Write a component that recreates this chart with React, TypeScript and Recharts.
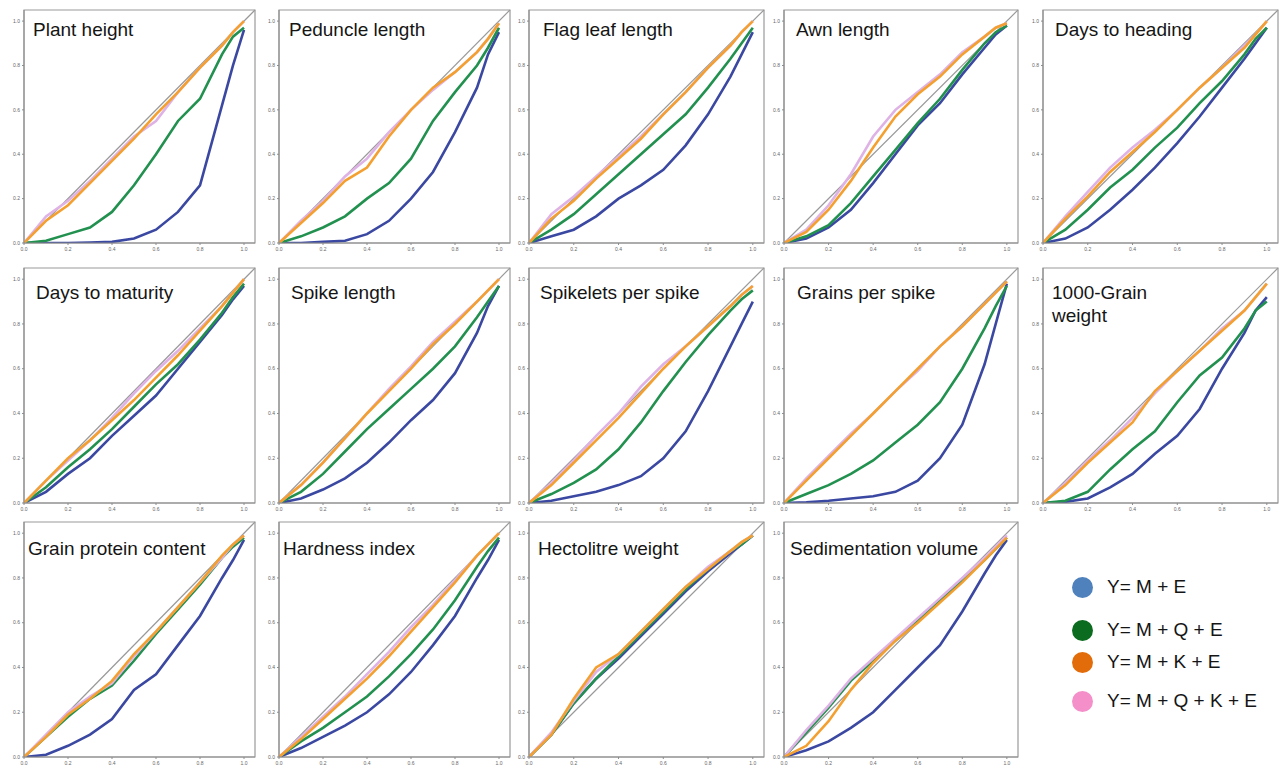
import { LineChart, Line, XAxis, YAxis, ReferenceLine, ReferenceArea } from "recharts";

// expected p grid shared by every P-P panel
const pGrid = [0, 0.1, 0.2, 0.3, 0.4, 0.5, 0.6, 0.7, 0.8, 0.9, 0.95, 1.0];

// each trait: [M+E, M+Q+E, M+K+E, M+Q+K+E] observed p along pGrid
const plantHeight = [
  [0, 0.0, 0.0, 0.002, 0.005, 0.02, 0.06, 0.14, 0.26, 0.62, 0.8, 0.96],
  [0, 0.01, 0.04, 0.07, 0.14, 0.26, 0.4, 0.55, 0.65, 0.85, 0.93, 0.97],
  [0, 0.1, 0.17, 0.27, 0.37, 0.47, 0.58, 0.68, 0.79, 0.89, 0.95, 1.0],
  [0, 0.12, 0.19, 0.28, 0.38, 0.48, 0.55, 0.68, 0.79, 0.89, 0.95, 1.0],
];
const peduncleLength = [
  [0, 0.0, 0.005, 0.01, 0.04, 0.1, 0.2, 0.32, 0.5, 0.7, 0.85, 0.95],
  [0, 0.03, 0.07, 0.12, 0.2, 0.27, 0.38, 0.55, 0.68, 0.8, 0.88, 0.97],
  [0, 0.09, 0.18, 0.28, 0.34, 0.48, 0.6, 0.7, 0.77, 0.86, 0.92, 0.99],
  [0, 0.1, 0.19, 0.3, 0.38, 0.5, 0.6, 0.69, 0.77, 0.86, 0.92, 0.99],
];
const flagLeafLength = [
  [0, 0.03, 0.06, 0.12, 0.2, 0.26, 0.33, 0.44, 0.58, 0.75, 0.85, 0.95],
  [0, 0.06, 0.13, 0.22, 0.31, 0.4, 0.49, 0.58, 0.7, 0.83, 0.9, 0.97],
  [0, 0.11, 0.19, 0.29, 0.38, 0.47, 0.58, 0.68, 0.79, 0.89, 0.95, 1.0],
  [0, 0.13, 0.21, 0.3, 0.39, 0.48, 0.58, 0.68, 0.79, 0.89, 0.95, 1.0],
];
const awnLength = [
  [0, 0.02, 0.07, 0.15, 0.27, 0.4, 0.53, 0.63, 0.76, 0.88, 0.94, 0.98],
  [0, 0.03, 0.08, 0.18, 0.3, 0.42, 0.54, 0.65, 0.78, 0.9, 0.95, 0.98],
  [0, 0.05, 0.15, 0.28, 0.43, 0.57, 0.67, 0.75, 0.85, 0.93, 0.97, 0.99],
  [0, 0.06, 0.17, 0.31, 0.48, 0.6, 0.68, 0.76, 0.86, 0.93, 0.97, 0.99],
];
const daysToHeading = [
  [0, 0.02, 0.07, 0.15, 0.24, 0.34, 0.45, 0.57, 0.7, 0.83, 0.9, 0.97],
  [0, 0.06, 0.15, 0.25, 0.33, 0.43, 0.52, 0.63, 0.73, 0.85, 0.92, 0.97],
  [0, 0.11, 0.21, 0.32, 0.41, 0.5, 0.6, 0.7, 0.79, 0.88, 0.94, 1.0],
  [0, 0.12, 0.23, 0.34, 0.43, 0.51, 0.6, 0.7, 0.79, 0.89, 0.94, 1.0],
];
const daysToMaturity = [
  [0, 0.05, 0.13, 0.2, 0.3, 0.39, 0.48, 0.6, 0.72, 0.84, 0.91, 0.97],
  [0, 0.07, 0.16, 0.24, 0.33, 0.43, 0.53, 0.62, 0.73, 0.85, 0.92, 0.98],
  [0, 0.1, 0.2, 0.28, 0.37, 0.46, 0.56, 0.66, 0.77, 0.88, 0.94, 1.0],
  [0, 0.1, 0.19, 0.28, 0.38, 0.49, 0.59, 0.68, 0.78, 0.88, 0.94, 1.0],
];
const spikeLength = [
  [0, 0.02, 0.06, 0.11, 0.18, 0.27, 0.37, 0.46, 0.58, 0.76, 0.88, 0.97],
  [0, 0.05, 0.13, 0.23, 0.33, 0.42, 0.51, 0.6, 0.7, 0.83, 0.9, 0.97],
  [0, 0.08, 0.18, 0.29, 0.4, 0.5, 0.6, 0.71, 0.8, 0.9, 0.95, 1.0],
  [0, 0.08, 0.18, 0.29, 0.4, 0.51, 0.61, 0.72, 0.81, 0.9, 0.95, 1.0],
];
const spikeletsPerSpike = [
  [0, 0.01, 0.03, 0.05, 0.08, 0.12, 0.2, 0.32, 0.5, 0.7, 0.8, 0.9],
  [0, 0.04, 0.09, 0.15, 0.24, 0.36, 0.5, 0.63, 0.75, 0.86, 0.91, 0.95],
  [0, 0.08, 0.18, 0.28, 0.38, 0.49, 0.6, 0.7, 0.79, 0.88, 0.93, 0.97],
  [0, 0.09, 0.19, 0.3, 0.4, 0.52, 0.62, 0.7, 0.79, 0.88, 0.93, 0.97],
];
const grainsPerSpike = [
  [0, 0.003, 0.01, 0.02, 0.03, 0.05, 0.1, 0.2, 0.35, 0.62, 0.8, 0.98],
  [0, 0.04, 0.08, 0.13, 0.19, 0.27, 0.35, 0.45, 0.6, 0.78, 0.88, 0.97],
  [0, 0.1, 0.2, 0.3, 0.4, 0.5, 0.6, 0.7, 0.79, 0.89, 0.94, 0.99],
  [0, 0.11, 0.21, 0.31, 0.4, 0.5, 0.59, 0.7, 0.79, 0.89, 0.94, 0.99],
];
const thousandGrainWeight = [
  [0, 0.005, 0.02, 0.07, 0.13, 0.22, 0.3, 0.42, 0.6, 0.76, 0.86, 0.92],
  [0, 0.01, 0.05, 0.15, 0.24, 0.32, 0.45, 0.57, 0.65, 0.78, 0.86, 0.9],
  [0, 0.08, 0.18, 0.27, 0.36, 0.5, 0.59, 0.68, 0.77, 0.86, 0.92, 0.98],
  [0, 0.09, 0.19, 0.28, 0.38, 0.49, 0.59, 0.68, 0.78, 0.86, 0.92, 0.98],
];
const grainProtein = [
  [0, 0.01, 0.05, 0.1, 0.17, 0.3, 0.37, 0.5, 0.63, 0.8, 0.88, 0.97],
  [0, 0.09, 0.18, 0.26, 0.32, 0.43, 0.55, 0.66, 0.77, 0.89, 0.94, 0.98],
  [0, 0.09, 0.19, 0.26, 0.34, 0.46, 0.56, 0.67, 0.78, 0.9, 0.95, 0.99],
  [0, 0.1, 0.2, 0.27, 0.33, 0.45, 0.56, 0.67, 0.78, 0.89, 0.95, 0.99],
];
const hardnessIndex = [
  [0, 0.04, 0.09, 0.14, 0.2, 0.28, 0.38, 0.5, 0.63, 0.8, 0.88, 0.97],
  [0, 0.07, 0.13, 0.2, 0.27, 0.36, 0.46, 0.57, 0.7, 0.85, 0.92, 0.98],
  [0, 0.08, 0.17, 0.26, 0.35, 0.45, 0.56, 0.67, 0.78, 0.9, 0.95, 1.0],
  [0, 0.09, 0.18, 0.27, 0.37, 0.47, 0.58, 0.68, 0.79, 0.9, 0.95, 1.0],
];
const hectolitreWeight = [
  [0, 0.1, 0.24, 0.35, 0.44, 0.54, 0.64, 0.74, 0.83, 0.91, 0.95, 0.99],
  [0, 0.1, 0.24, 0.35, 0.45, 0.55, 0.65, 0.75, 0.84, 0.92, 0.95, 0.99],
  [0, 0.1, 0.26, 0.4, 0.46, 0.56, 0.66, 0.76, 0.84, 0.92, 0.96, 0.99],
  [0, 0.11, 0.25, 0.38, 0.46, 0.56, 0.66, 0.76, 0.85, 0.92, 0.96, 0.99],
];
const sedimentationVolume = [
  [0, 0.03, 0.07, 0.13, 0.2, 0.3, 0.4, 0.5, 0.65, 0.82, 0.9, 0.97],
  [0, 0.11, 0.22, 0.34, 0.43, 0.52, 0.61, 0.7, 0.79, 0.88, 0.93, 0.98],
  [0, 0.05, 0.16, 0.3, 0.42, 0.52, 0.6, 0.69, 0.78, 0.88, 0.93, 0.98],
  [0, 0.12, 0.23, 0.35, 0.44, 0.53, 0.62, 0.71, 0.8, 0.89, 0.94, 0.99],
];

const traitNames = [
  "Plant height", "Peduncle length", "Flag leaf length", "Awn length", "Days to heading",
  "Days to maturity", "Spike length", "Spikelets per spike", "Grains per spike", "1000-Grain\nweight",
  "Grain protein content", "Hardness index", "Hectolitre weight", "Sedimentation volume",
];
const traitData = [
  plantHeight, peduncleLength, flagLeafLength, awnLength, daysToHeading,
  daysToMaturity, spikeLength, spikeletsPerSpike, grainsPerSpike, thousandGrainWeight,
  grainProtein, hardnessIndex, hectolitreWeight, sedimentationVolume,
];

const modelLabels = ["Y= M + E", "Y= M + Q + E", "Y= M + K + E", "Y= M + Q + K + E"];
const modelKeys = ["me", "mqe", "mke", "mqke"];
const lineColors = ["#3a48a2", "#22914f", "#f4a031", "#dfb2e6"];
const legendColors = ["#4f81bd", "#0b6b1f", "#e36c0a", "#f58fc9"];
const axisTicks = [0, 0.2, 0.4, 0.6, 0.8, 1.0];

// panel boxes (plot frame) in page pixels
const colLeft = [24, 279, 529, 784, 1043];
const colWidth = [230, 230, 234, 233, 234];
const rowTop = [10, 268, 522];
const rowHeight = [233, 235, 235];
const titleDx = [9, 10, 14, 12, 12, 12, 12, 11, 13, 9, 4, 4, 9, 6];
const titleDy = [8, 13, 15];

const Y_AXIS_W = 14;
const X_AXIS_H = 12;

function PPPanel({ index }: { index: number }) {
  const row = Math.floor(index / 5);
  const col = index % 5;
  const left = colLeft[col];
  const top = rowTop[row];
  const w = colWidth[col];
  const h = rowHeight[row];
  const series = traitData[index];
  const data = pGrid.map((p, i) => ({
    p,
    me: series[0][i],
    mqe: series[1][i],
    mke: series[2][i],
    mqke: series[3][i],
  }));
  const tick = { fontSize: 5, fill: "#666", fontFamily: "Liberation Sans, Arial, sans-serif" };
  // pink drawn below orange
  const order = [0, 1, 3, 2];
  return (
    <>
      <div style={{ position: "absolute", left: left - Y_AXIS_W, top: top - 1 }}>
        <LineChart
          width={Y_AXIS_W + w + 2}
          height={h + X_AXIS_H + 1}
          data={data}
          margin={{ top: 1, right: 1, left: 0, bottom: 0 }}
        >
          <XAxis
            type="number"
            dataKey="p"
            domain={[0, 1.05]}
            ticks={axisTicks}
            allowDataOverflow
            tickFormatter={(v: number) => v.toFixed(1)}
            tick={tick}
            tickSize={2}
            height={X_AXIS_H}
            stroke="#8c8c8c"
          />
          <YAxis
            type="number"
            domain={[0, 1.05]}
            ticks={axisTicks}
            allowDataOverflow
            tickFormatter={(v: number) => v.toFixed(1)}
            tick={tick}
            tickSize={2}
            width={Y_AXIS_W}
            stroke="#8c8c8c"
          />
          <ReferenceArea x1={0} x2={1.05} y1={0} y2={1.05} fill="none" stroke="#9a9a9a" strokeWidth={1.2} />
          <ReferenceLine
            segment={[{ x: 0, y: 0 }, { x: 1.05, y: 1.05 }]}
            stroke="#999999"
            strokeWidth={1.2}
          />
          {order.map((k) => (
            <Line
              key={modelKeys[k]}
              type="linear"
              dataKey={modelKeys[k]}
              stroke={lineColors[k]}
              strokeWidth={2.6}
              dot={false}
              isAnimationActive={false}
            />
          ))}
        </LineChart>
      </div>
      <div
        style={{
          position: "absolute",
          left: left + titleDx[index],
          top: top + titleDy[row],
          fontSize: 19,
          lineHeight: "23px",
          color: "#151515",
          whiteSpace: "pre-line",
          fontFamily: "Liberation Sans, Arial, sans-serif",
        }}
      >
        {traitNames[index]}
      </div>
    </>
  );
}

const legendTop = [587, 630, 662, 701];

export default function App() {
  return (
    <div
      style={{
        position: "absolute",
        left: 0,
        top: 0,
        width: 1282,
        height: 765,
        background: "#fff",
        overflow: "hidden",
      }}
    >
      {traitNames.map((_, i) => (
        <PPPanel key={i} index={i} />
      ))}
      {modelLabels.map((label, i) => (
        <div
          key={label}
          style={{
            position: "absolute",
            left: 1072,
            top: legendTop[i] - 12,
            height: 24,
            display: "flex",
            alignItems: "center",
            fontFamily: "Liberation Sans, Arial, sans-serif",
            fontSize: 19,
            color: "#151515",
          }}
        >
          <span
            style={{
              display: "inline-block",
              width: 21,
              height: 21,
              borderRadius: "50%",
              background: legendColors[i],
              marginRight: 14,
            }}
          />
          {label}
        </div>
      ))}
    </div>
  );
}
